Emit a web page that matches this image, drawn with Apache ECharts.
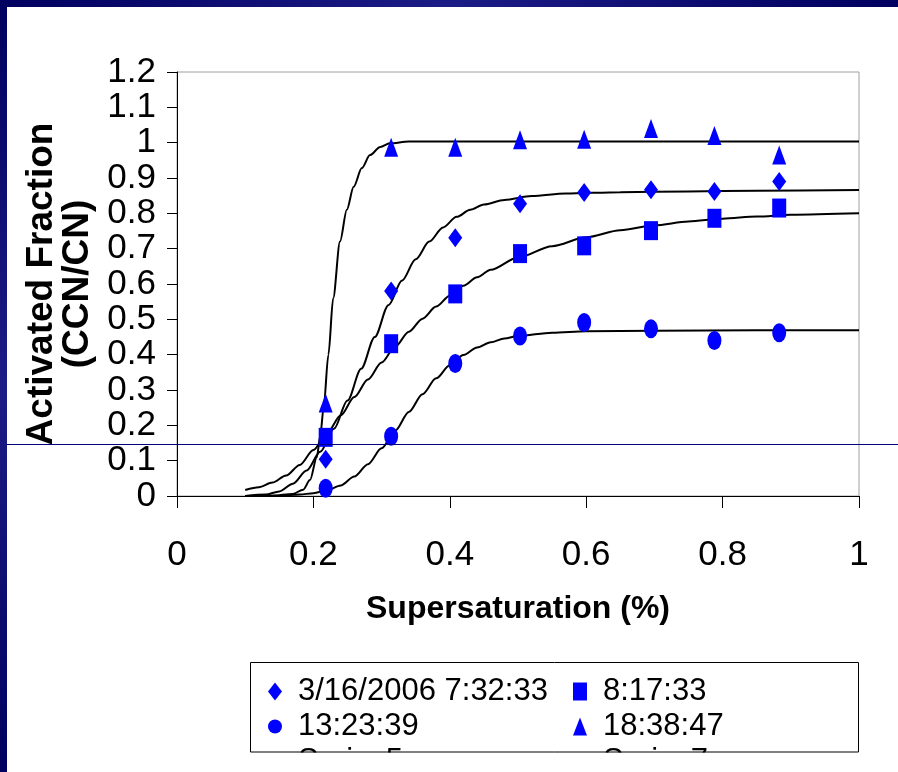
<!DOCTYPE html>
<html>
<head>
<meta charset="utf-8">
<script src="https://cdn.jsdelivr.net/npm/echarts@6/dist/echarts.min.js"></script>
<style>
html,body{margin:0;padding:0;background:#fff;}
#c{width:898px;height:772px;}
</style>
</head>
<body>
<div id="c"></div>
<script>
// ---- Data ----
const seriesNames = ['3/16/2006 7:32:33', '8:17:33', '13:23:39', '18:38:47'];
const fitNames = ['Series5', 'Series6', 'Series7', 'Series8'];
const xTicks = ['0', '0.2', '0.4', '0.6', '0.8', '1'];
const supersat = [0.218, 0.314, 0.408, 0.503, 0.597, 0.695, 0.788, 0.883];
const fracDiamond  = [0.104, 0.580, 0.731, 0.827, 0.859, 0.867, 0.862, 0.890];
const fracSquare   = [0.166, 0.431, 0.572, 0.686, 0.708, 0.751, 0.786, 0.815];
const fracCircle   = [0.022, 0.169, 0.375, 0.453, 0.491, 0.473, 0.440, 0.462];
const fracTriangle = [0.263, 0.987, 0.987, 1.008, 1.010, 1.040, 1.020, 0.965];

// fitted curves
const fitDiamondX = [0.10, 0.13, 0.15, 0.17, 0.19, 0.21, 0.23, 0.25, 0.27, 0.29, 0.31, 0.33, 0.35, 0.37, 0.39, 0.41, 0.43, 0.45, 0.48, 0.52, 0.57, 0.65, 0.75, 0.85, 1.0];
const fitDiamondY = [0.0, 0.004, 0.013, 0.035, 0.072, 0.125, 0.19, 0.27, 0.36, 0.45, 0.54, 0.61, 0.67, 0.72, 0.76, 0.79, 0.81, 0.825, 0.838, 0.849, 0.856, 0.86, 0.862, 0.864, 0.866];
const fitSquareX = [0.10, 0.12, 0.14, 0.16, 0.18, 0.20, 0.22, 0.24, 0.26, 0.28, 0.30, 0.32, 0.34, 0.36, 0.38, 0.40, 0.42, 0.44, 0.46, 0.50, 0.55, 0.60, 0.65, 0.70, 0.75, 0.80, 0.85, 0.90, 1.0];
const fitSquareY = [0.017, 0.025, 0.038, 0.058, 0.088, 0.13, 0.178, 0.228, 0.28, 0.33, 0.378, 0.423, 0.465, 0.502, 0.536, 0.567, 0.595, 0.619, 0.64, 0.675, 0.707, 0.732, 0.752, 0.766, 0.777, 0.785, 0.791, 0.796, 0.80];
const fitCircleX = [0.10, 0.15, 0.18, 0.20, 0.22, 0.24, 0.26, 0.28, 0.30, 0.32, 0.34, 0.36, 0.38, 0.40, 0.42, 0.44, 0.46, 0.48, 0.50, 0.55, 0.60, 0.70, 0.85, 1.0];
const fitCircleY = [0.0, 0.001, 0.004, 0.008, 0.016, 0.03, 0.055, 0.09, 0.135, 0.185, 0.238, 0.288, 0.333, 0.37, 0.399, 0.42, 0.435, 0.446, 0.453, 0.462, 0.466, 0.468, 0.469, 0.469];
const fitTriangleX = [0.10, 0.14, 0.17, 0.185, 0.195, 0.205, 0.21, 0.215, 0.222, 0.229, 0.239, 0.249, 0.259, 0.271, 0.283, 0.298, 0.312, 0.34, 0.5, 1.0];
const fitTriangleY = [0.0, 0.001, 0.006, 0.018, 0.045, 0.11, 0.17, 0.25, 0.40, 0.56, 0.72, 0.81, 0.875, 0.928, 0.965, 0.988, 0.998, 1.003, 1.003, 1.003];

const pts = (xs, ys) => xs.map((x, i) => [x, ys[i]]);
const BLUE = '#0000ff';
const REG = "'Liberation Sans', Arial, sans-serif";

const chart = echarts.init(document.getElementById('c'), null, {renderer: 'canvas'});

function scatter(name, data, symbol) {
  return {
    name: name, type: 'scatter', data: pts(supersat, data),
    symbol: symbol, symbolSize: [14, 19], symbolKeepAspect: false,
    itemStyle: {color: BLUE, opacity: 1}, z: 5
  };
}
function fit(name, xs, ys) {
  return {
    name: name, type: 'line', data: pts(xs, ys), showSymbol: false, symbol: 'none',
    smooth: 0.3, smoothMonotone: 'x',
    lineStyle: {color: '#000', width: 2}, itemStyle: {color: '#000'}, z: 3
  };
}

const legendText = {fontFamily: REG, fontSize: 31, color: '#000', lineHeight: 35, padding: [0, 0, 0, 11]};
function legendItem(name, icon, left, top) {
  return {
    orient: 'horizontal', left: left, top: top, padding: 0, itemGap: 0,
    itemWidth: 14, itemHeight: 18, textStyle: legendText,
    data: [{name: name, icon: icon}]
  };
}

const option = {
  backgroundColor: '#fff',
  animation: false,
  grid: {left: 177, right: 39, top: 72, bottom: 276, show: true, borderColor: '#a0a0a0', borderWidth: 1},
  xAxis: {
    type: 'value', min: 0, max: 1, interval: 0.2,
    name: 'Supersaturation (%)', nameLocation: 'middle', nameGap: 97,
    nameTextStyle: {fontFamily: REG, fontWeight: 'bold', fontSize: 32, color: '#000'},
    axisLine: {show: true, lineStyle: {color: '#000', width: 1}},
    axisTick: {show: true, inside: false, length: 12, lineStyle: {color: '#000'}},
    axisLabel: {margin: 42, fontFamily: REG, fontSize: 35, color: '#000',
      formatter: (v) => xTicks[Math.round(v / 0.2)]},
    splitLine: {show: false}
  },
  yAxis: {
    type: 'value', min: 0, max: 1.2, interval: 0.1,
    name: 'Activated Fraction\n(CCN/CN)', nameLocation: 'middle', nameGap: 79, nameRotate: 90,
    nameTextStyle: {fontFamily: REG, fontWeight: 'bold', fontSize: 37, lineHeight: 36, color: '#000'},
    axisLine: {show: true, lineStyle: {color: '#000', width: 1}},
    axisTick: {show: true, inside: false, length: 10, lineStyle: {color: '#000'}},
    axisLabel: {margin: 21, fontFamily: REG, fontSize: 35, color: '#000',
      formatter: (v) => String(Number(v.toFixed(1)))},
    splitLine: {show: false}
  },
  legend: [
    legendItem(seriesNames[0], 'diamond', 268, 674),
    legendItem(seriesNames[1], 'rect', 573, 674),
    legendItem(seriesNames[2], 'circle', 268, 709),
    legendItem(seriesNames[3], 'triangle', 573, 709),
    legendItem(fitNames[0], 'none', 268, 744),
    legendItem(fitNames[2], 'none', 573, 744)
  ],
  series: [
    fit(fitNames[0], fitDiamondX, fitDiamondY),
    fit(fitNames[1], fitSquareX, fitSquareY),
    fit(fitNames[2], fitCircleX, fitCircleY),
    fit(fitNames[3], fitTriangleX, fitTriangleY),
    scatter(seriesNames[0], fracDiamond, 'diamond'),
    scatter(seriesNames[1], fracSquare, 'rect'),
    scatter(seriesNames[2], fracCircle, 'circle'),
    scatter(seriesNames[3], fracTriangle, 'triangle')
  ],
  graphic: [
    {type: 'rect', z: 100, shape: {x: 8, y: 752.5, width: 890, height: 20}, style: {fill: '#fff'}},
    {type: 'rect', z: 101, shape: {x: 250.5, y: 662.5, width: 608, height: 89.5}, style: {fill: 'none', stroke: '#000', lineWidth: 1}},
    {type: 'line', z: 102, shape: {x1: 0, y1: 444.5, x2: 898, y2: 444.5}, style: {stroke: '#000080', lineWidth: 1}},
    {type: 'rect', z: 103, shape: {x: 0, y: 0, width: 898, height: 7},
      style: {fill: new echarts.graphic.LinearGradient(0, 0, 1, 0, [
        {offset: 0, color: '#000060'}, {offset: 0.5, color: '#1c1c86'}, {offset: 1, color: '#000060'}])}},
    {type: 'rect', z: 103, shape: {x: 0, y: 0, width: 7, height: 772},
      style: {fill: new echarts.graphic.LinearGradient(0, 0, 0, 1, [
        {offset: 0, color: '#000060'}, {offset: 0.5, color: '#1c1c86'}, {offset: 1, color: '#000060'}])}}
  ]
};
chart.setOption(option);
</script>
</body>
</html>
